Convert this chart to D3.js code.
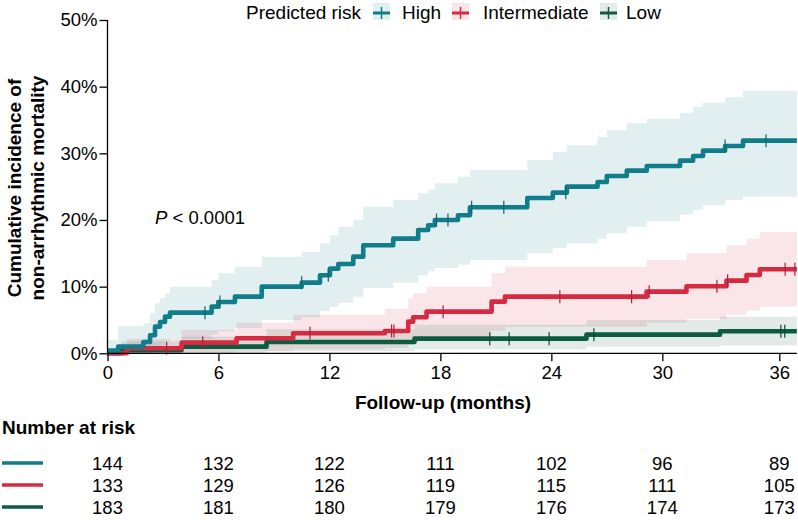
<!DOCTYPE html>
<html>
<head>
<meta charset="utf-8">
<script src="https://cdn.jsdelivr.net/npm/d3@7"></script>
<style>
  html, body { margin: 0; padding: 0; background: #fff; }
  svg { display: block; font-family: "Liberation Sans", Arial, Helvetica, sans-serif; }
</style>
</head>
<body>
<svg id="chart" width="798" height="520"></svg>
<script>
// ---------------- DATA ----------------
const xTicks = [0, 6, 12, 18, 24, 30, 36];
const yTicks = [0, 10, 20, 30, 40, 50];
const endTime = 36.9;

const groups = ["High", "Intermediate", "Low"];
const colors = ["#117d8a", "#d62a42", "#0d5c42"];

// High risk: step times (months), estimate, lower CI, upper CI (percent)
const highTime = [0, 0.58, 1.94, 2.30, 2.57, 2.84, 3.11, 3.38, 5.63, 5.99, 6.89, 8.34, 10.5, 11.49, 12.03, 12.48, 13.29, 13.83, 15.45, 16.8, 17.34, 17.7, 18.95, 19.6, 22.7, 24.08, 24.84, 26.5, 27.0, 28.08, 29.16, 30.91, 31.58, 32.09, 33.22, 34.14];
const highEst  = [0.4, 1.0, 1.7, 2.7, 4.0, 4.7, 5.5, 6.1, 7.0, 7.7, 8.5, 10.0, 10.6, 11.7, 12.7, 13.4, 14.5, 16.2, 17.2, 18.5, 19.2, 20.0, 20.7, 21.9, 23.3, 24.1, 25.0, 25.7, 26.6, 27.4, 28.1, 28.9, 29.6, 30.4, 31.1, 31.9];
const highLo   = [0, 0, 0, 0.2, 0.8, 1.2, 1.8, 2.2, 2.8, 3.3, 3.8, 5.0, 5.4, 6.3, 7.0, 7.6, 8.5, 9.8, 10.6, 11.7, 12.3, 12.8, 13.3, 14.0, 15.0, 15.8, 16.5, 17.2, 18.0, 19.0, 19.8, 20.8, 21.5, 22.2, 23.0, 23.5];
const highHi   = [2.0, 4.1, 4.5, 6.0, 7.5, 8.3, 9.0, 10.0, 11.0, 12.0, 13.0, 14.5, 15.2, 16.5, 17.7, 19.0, 20.0, 22.0, 23.0, 24.0, 24.5, 25.5, 26.5, 27.5, 29.0, 30.2, 31.2, 32.5, 33.5, 34.5, 35.2, 36.1, 37.0, 37.6, 38.4, 39.4];
const highCens = [5.27, 6.08, 10.5, 11.94, 17.79, 18.41, 19.69, 21.43, 24.78, 33.22, 35.32];

// Intermediate risk
const intTime = [0, 1.04, 4.01, 6.98, 10.04, 15.0, 16.26, 16.53, 17.25, 20.77, 21.49, 29.15, 31.24, 33.29, 34.32, 35.0];
const intEst  = [0, 0.75, 1.6, 2.25, 3.0, 3.35, 4.75, 5.4, 6.25, 7.75, 8.5, 9.25, 10.05, 10.9, 11.75, 12.6];
const intLo   = [0, 0, 0, 0.3, 0.6, 0.8, 1.6, 2.0, 2.6, 3.4, 4.0, 4.6, 5.2, 5.8, 6.4, 7.0];
const intHi   = [0, 2.2, 3.5, 4.6, 5.8, 6.7, 8.2, 9.0, 10.0, 12.0, 13.0, 14.0, 15.0, 16.2, 17.2, 18.2];
const intCens = [3.2, 5.15, 10.95, 15.36, 15.49, 18.15, 24.46, 28.34, 29.29, 32.8, 33.35, 36.3, 36.8];

// Low risk
const lowTime = [0, 0.76, 4.0, 8.6, 16.6, 25.9, 32.96];
const lowEst  = [0, 0.45, 1.0, 1.7, 2.2, 2.8, 3.3];
const lowLo   = [0, 0, 0, 0.3, 0.6, 1.0, 1.2];
const lowHi   = [0, 1.8, 2.5, 3.6, 4.3, 5.0, 5.5];
const lowCens = [20.67, 21.72, 23.88, 26.3, 36.08, 36.28];

// Number at risk at each x tick
const riskHigh = [144, 132, 122, 111, 102, 96, 89];
const riskInt  = [133, 129, 126, 119, 115, 111, 105];
const riskLow  = [183, 181, 180, 179, 176, 174, 173];

// ---------------- CHART ----------------
const svg = d3.select("#chart");
const font = "'Liberation Sans', Arial, Helvetica, sans-serif";

const x = d3.scaleLinear().domain([0, 30, 36]).range([107.5, 662.3, 779.3]);
const y = d3.scaleLinear().domain([0, 50]).range([353.3, 20]);
const x0 = x(0), x1 = x(endTime);

function rows(t, e, lo, hi) {
  const r = t.map((d, i) => ({ t: d, e: e[i], lo: lo[i], hi: hi[i] }));
  const last = r[r.length - 1];
  r.push({ t: endTime, e: last.e, lo: last.lo, hi: last.hi });
  return r;
}
function stepAt(r, t) {
  let v = r[0].e;
  for (const d of r) { if (d.t <= t) v = d.e; }
  return v;
}

const series = [
  { rows: rows(highTime, highEst, highLo, highHi), cens: highCens, color: colors[0] },
  { rows: rows(intTime, intEst, intLo, intHi), cens: intCens, color: colors[1] },
  { rows: rows(lowTime, lowEst, lowLo, lowHi), cens: lowCens, color: colors[2] }
];

const area = d3.area().curve(d3.curveStepAfter)
  .x(d => x(d.t)).y0(d => y(d.lo)).y1(d => y(d.hi));
const line = d3.line().curve(d3.curveStepAfter)
  .x(d => x(d.t)).y(d => y(d.e));

const plot = svg.append("g");
// bands
series.forEach(s => {
  plot.append("path").attr("d", area(s.rows))
    .attr("fill", s.color).attr("fill-opacity", 0.12).attr("stroke", "none");
});
// lines (low first, high on top)
[2, 1, 0].forEach(i => {
  const s = series[i];
  plot.append("path").attr("d", line(s.rows))
    .attr("fill", "none").attr("stroke", s.color)
    .attr("stroke-width", 4.6).attr("stroke-linejoin", "round").attr("stroke-linecap", "butt");
});
// censor marks
[2, 1, 0].forEach(i => {
  const s = series[i];
  plot.selectAll(null).data(s.cens).enter().append("line")
    .attr("x1", d => x(d)).attr("x2", d => x(d))
    .attr("y1", d => y(stepAt(s.rows, d)) - 6.5)
    .attr("y2", d => y(stepAt(s.rows, d)) + 6.5)
    .attr("stroke", d3.color(s.color).darker(0.6)).attr("stroke-width", 1.2);
});

// axes
const yAxis = svg.append("g").attr("transform", `translate(${x0},0)`)
  .call(d3.axisLeft(y).tickValues(yTicks).tickFormat(d => d + "%").tickSize(8).tickSizeOuter(0));
const xAxis = svg.append("g").attr("transform", `translate(0,${y(0)})`)
  .call(d3.axisBottom(x).tickValues(xTicks).tickSize(8).tickSizeOuter(0));
[yAxis, xAxis].forEach(a => {
  a.select(".domain").attr("stroke", "#000").attr("stroke-width", 1.3);
  a.selectAll(".tick line").attr("stroke", "#000").attr("stroke-width", 1.3);
  a.selectAll(".tick text").attr("font-family", font).attr("font-size", 18.5).attr("fill", "#000");
});
yAxis.select(".domain").attr("d", `M0,${y(50)}V${y(0)}`);
xAxis.select(".domain").attr("d", `M${x0},0H${x1}`);
yAxis.selectAll(".tick text").attr("x", -10);
xAxis.selectAll(".tick text").attr("y", 13);

// axis titles
svg.append("text").attr("x", 443).attr("y", 409)
  .attr("text-anchor", "middle").attr("font-family", font).attr("font-size", 19)
  .attr("font-weight", "bold").text("Follow-up (months)");
const yt = svg.append("text").attr("transform", "translate(0,188) rotate(-90)")
  .attr("text-anchor", "middle").attr("font-family", font).attr("font-size", 19)
  .attr("font-weight", "bold");
yt.append("tspan").attr("x", 0).attr("y", 21).text("Cumulative incidence of");
yt.append("tspan").attr("x", 0).attr("y", 44).text("non-arrhythmic mortality");

// P value
const pv = svg.append("text").attr("x", 155).attr("y", 224)
  .attr("font-family", font).attr("font-size", 18.5);
pv.append("tspan").attr("font-style", "italic").text("P");
pv.append("tspan").text(" < 0.0001");

// legend
svg.append("text").attr("x", 246).attr("y", 19).attr("font-family", font)
  .attr("font-size", 19).text("Predicted risk");
const legX = [373, 452, 600];
const legTX = [402, 483, 626];
groups.forEach((g, i) => {
  const lg = svg.append("g").attr("transform", `translate(${legX[i]},3)`);
  lg.append("rect").attr("x", 0).attr("y", 0).attr("width", 17).attr("height", 17)
    .attr("fill", colors[i]).attr("fill-opacity", 0.12);
  lg.append("line").attr("x1", 0).attr("x2", 17).attr("y1", 10).attr("y2", 10)
    .attr("stroke", colors[i]).attr("stroke-width", 3);
  lg.append("line").attr("x1", 8.5).attr("x2", 8.5).attr("y1", 4).attr("y2", 16)
    .attr("stroke", colors[i]).attr("stroke-width", 1.5);
  svg.append("text").attr("x", legTX[i]).attr("y", 19).attr("font-family", font)
    .attr("font-size", 19).text(g);
});

// risk table
svg.append("text").attr("x", 2).attr("y", 434).attr("font-family", font)
  .attr("font-size", 19).attr("font-weight", "bold").text("Number at risk");
const riskRows = [riskHigh, riskInt, riskLow];
const rowY = [463, 485, 507];
riskRows.forEach((r, i) => {
  svg.append("line").attr("x1", 2).attr("x2", 43).attr("y1", rowY[i]).attr("y2", rowY[i])
    .attr("stroke", colors[i]).attr("stroke-width", 3.5);
  svg.selectAll(null).data(r).enter().append("text")
    .attr("x", (d, j) => x(xTicks[j])).attr("y", rowY[i] + 6.5)
    .attr("text-anchor", "middle").attr("font-family", font).attr("font-size", 18.5)
    .text(d => d);
});
</script>
</body>
</html>
